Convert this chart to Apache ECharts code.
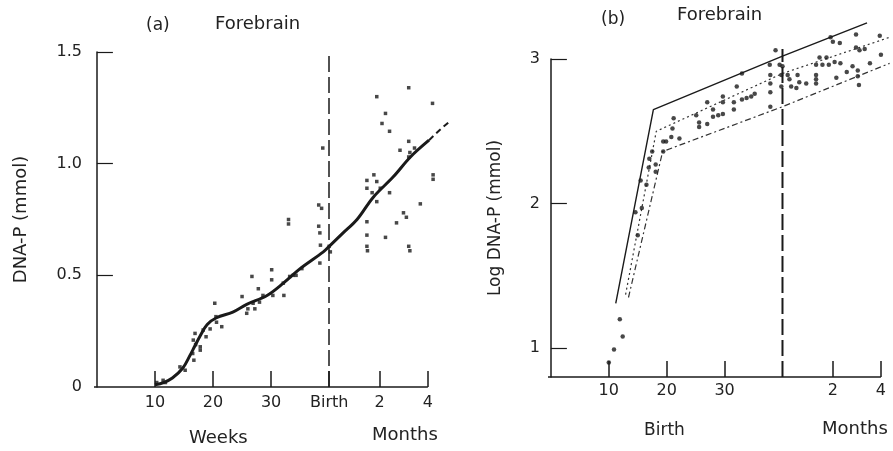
<!DOCTYPE html>
<html>
<head>
<meta charset="utf-8">
<script src="https://cdn.jsdelivr.net/npm/echarts@6/dist/echarts.min.js"></script>
<style>
html,body{margin:0;padding:0;background:#fff;}
#c{width:893px;height:451px;}
</style>
</head>
<body>
<div id="c"></div>
<script>
// ---------- Panel (a) data: weeks (40 = birth) vs DNA-P (mmol)
var curveA = [[10,0.01],[11.5,0.02],[13,0.04],[14.8,0.085],[16,0.14],[16.8,0.18],[17.8,0.23],[19,0.28],[20.6,0.31],[23.4,0.335],[25.8,0.37],[29.3,0.41],[32.1,0.465],[35,0.53],[39,0.605],[40,0.63],[42.4,0.69],[44.8,0.75],[47.6,0.85],[51,0.94],[54,1.03],[57.2,1.105]];
var curveAext = [[57.2,1.105],[59,1.15],[61,1.195]];
var pointsA = [[10.3,0.02],[11.4,0.03],[11.8,0.02],[14.3,0.09],[15.2,0.075],[16.5,0.15],[16.7,0.12],[16.6,0.21],[16.9,0.24],[17,0.19],[17.8,0.165],[17.8,0.18],[18.3,0.255],[18.8,0.225],[19.5,0.26],[20.3,0.375],[20.5,0.315],[20.6,0.29],[21.5,0.27],[25,0.405],[25.8,0.33],[26,0.35],[26.7,0.495],[26.9,0.375],[27.2,0.35],[27.8,0.44],[28,0.38],[28.6,0.41],[30.1,0.525],[30.1,0.48],[30.3,0.41],[32.1,0.465],[32.2,0.41],[33,0.75],[33,0.73],[33.2,0.495],[33.8,0.5],[34.3,0.5],[35.3,0.53],[38.2,0.815],[38.7,0.8],[38.2,0.72],[38.4,0.69],[38.5,0.635],[38.4,0.555],[38.9,1.07],[40.2,0.605],[40,0.63],[46.5,0.925],[46.5,0.89],[46.5,0.74],[46.5,0.68],[46.5,0.63],[46.6,0.61],[47.7,0.95],[47.4,0.87],[48.2,0.92],[48.8,0.89],[48.2,0.83],[48.2,1.30],[49.1,1.18],[49.7,1.225],[50.4,1.145],[49.7,0.67],[50.4,0.87],[51.6,0.735],[52.2,1.06],[52.8,0.78],[53.3,0.76],[53.7,1.34],[53.7,1.1],[53.7,1.03],[53.9,1.05],[53.7,0.63],[53.9,0.61],[54.7,1.07],[55.7,0.82],[57.8,1.27],[57.9,0.95],[57.9,0.93]];
var tickValsA = [10,20,30,40,48.7,57];
var tickLabelsA = ['10','20','30','Birth','2','4'];
var yTicksA = [0,0.5,1.0,1.5];
var birthA = 40;
var baseA = [[-0.5,0],[57,0]];

// ---------- Panel (b) data: weeks vs log DNA-P (mmol)
var upperB = [[11.2,1.31],[17.7,2.65],[40,3.02],[54.6,3.25]];
var middleB = [[12.9,1.37],[18.2,2.50],[40,2.90],[58.5,3.15]];
var lowerB = [[13.4,1.35],[19.3,2.36],[40,2.67],[58.5,2.97]];
var pointsB = [[10,0.90],[10.9,0.99],[11.9,1.20],[12.4,1.08],[14.6,1.94],[15,1.78],[15.7,1.97],[15.5,2.16],[16.5,2.13],[16.9,2.25],[17,2.31],[17.5,2.36],[18.1,2.27],[18.1,2.22],[19.4,2.36],[19.4,2.43],[19.9,2.43],[20.8,2.46],[21,2.52],[21.2,2.59],[22.2,2.45],[25.1,2.61],[25.6,2.56],[25.6,2.53],[27,2.70],[27,2.55],[28,2.65],[28,2.60],[28.9,2.61],[29.7,2.74],[29.7,2.70],[29.7,2.62],[31.6,2.70],[31.6,2.65],[32.1,2.81],[33,2.72],[33,2.90],[33.8,2.73],[34.6,2.74],[35.2,2.76],[37.8,2.96],[37.9,2.89],[37.9,2.83],[37.9,2.77],[37.9,2.67],[38.8,3.06],[39.5,2.96],[39.8,2.89],[39.8,2.81],[40,2.95],[40.9,2.89],[41.2,2.86],[41.5,2.81],[42.4,2.80],[42.6,2.89],[42.9,2.84],[44.1,2.83],[45.8,2.96],[45.8,2.89],[45.8,2.86],[45.8,2.83],[46.4,3.01],[46.9,2.96],[47.6,3.01],[48,2.96],[48.3,3.15],[48.7,3.12],[49,2.98],[49.3,2.87],[49.9,3.11],[50,2.97],[51.1,2.91],[52.1,2.95],[52.7,3.17],[52.7,3.08],[53,2.92],[53,2.88],[53.2,2.82],[53.3,3.06],[54.2,3.07],[55.1,2.97],[56.8,3.16],[57,3.03]];
var tickValsB = [10,20,30,48.7,57];
var tickLabelsB = ['10','20','30','2','4'];
var yTicksB = [1,2,3];
var birthLineB = [[40,0.8],[40,3.07]];
var baseB = [[-0.5,0.8],[57,0.8]];

var INK = '#1a1a1a';
var TXT = '#222';
var FONT = 'DejaVu Sans';

function lab(vals, labels){ return function(v){ var i = vals.indexOf(v); return i>=0 ? labels[i] : ''; }; }
function seg(p){ return [[{coord:p[0]},{coord:p[1]}]]; }

var chart = echarts.init(document.getElementById('c'), null, {renderer:'canvas'});
chart.setOption({
  animation:false,
  backgroundColor:'#fff',
  textStyle:{fontFamily:FONT,color:TXT},
  grid:[
    {left:94, top:52, width:360, height:335},
    {left:548, top:59, width:344.5, height:318}
  ],
  xAxis:[
    {gridIndex:0, type:'value', min:-0.5, max:61.5, splitLine:{show:false},
     axisLine:{show:false},
     axisTick:{show:true, inside:true, length:16, customValues:tickValsA, lineStyle:{color:INK,width:1.5}},
     axisLabel:{customValues:tickValsA, formatter:lab(tickValsA,tickLabelsA), color:TXT, fontSize:16, margin:8, fontFamily:FONT}},
    {gridIndex:1, type:'value', min:-0.5, max:59, splitLine:{show:false},
     axisLine:{show:false},
     axisTick:{show:true, inside:true, length:16, customValues:tickValsB, lineStyle:{color:INK,width:1.5}},
     axisLabel:{customValues:tickValsB, formatter:lab(tickValsB,tickLabelsB), color:TXT, fontSize:16, margin:6, fontFamily:FONT}}
  ],
  yAxis:[
    {gridIndex:0, type:'value', min:0, max:1.5, interval:0.5, splitLine:{show:false},
     name:'DNA-P (mmol)', nameLocation:'middle', nameGap:64, nameRotate:90,
     nameTextStyle:{fontSize:18,color:TXT,fontFamily:FONT},
     axisLine:{show:true,lineStyle:{color:INK,width:1.5}},
     axisTick:{show:true, inside:true, length:16, customValues:[0.5,1.0,1.5], lineStyle:{color:INK,width:1.2}},
     axisLabel:{customValues:yTicksA, formatter:function(v){return v===0?'0':v.toFixed(1);}, color:TXT, fontSize:16, margin:12, fontFamily:FONT}},
    {gridIndex:1, type:'value', min:0.8, max:3.0, splitLine:{show:false},
     name:'Log DNA-P (mmol)', nameLocation:'middle', nameGap:44, nameRotate:90,
     nameTextStyle:{fontSize:17,color:TXT,fontFamily:FONT},
     axisLine:{show:true,lineStyle:{color:INK,width:1.5}},
     axisTick:{show:true, inside:true, length:16, customValues:yTicksB, lineStyle:{color:INK,width:1.2}},
     axisLabel:{customValues:yTicksB, formatter:function(v){return String(v);}, color:TXT, fontSize:16, margin:8, fontFamily:FONT}}
  ],
  graphic:[
    {type:'text', left:146, top:17, style:{text:'(a)', fontSize:17, fill:TXT, fontFamily:FONT}},
    {type:'text', left:215, top:15, style:{text:'Forebrain', fontSize:18, fill:TXT, fontFamily:FONT}},
    {type:'text', left:189, top:429, style:{text:'Weeks', fontSize:18, fill:TXT, fontFamily:FONT}},
    {type:'text', left:372, top:426, style:{text:'Months', fontSize:18, fill:TXT, fontFamily:FONT}},
    {type:'text', left:601, top:11, style:{text:'(b)', fontSize:17, fill:TXT, fontFamily:FONT}},
    {type:'text', left:677, top:6, style:{text:'Forebrain', fontSize:18, fill:TXT, fontFamily:FONT}},
    {type:'text', left:644, top:422, style:{text:'Birth', fontSize:17, fill:TXT, fontFamily:FONT}},
    {type:'text', left:822, top:420, style:{text:'Months', fontSize:18, fill:TXT, fontFamily:FONT}}
  ],
  series:[
    {type:'line', xAxisIndex:0, yAxisIndex:0, data:curveA, smooth:0.35, showSymbol:false, symbol:'none',
     lineStyle:{color:INK,width:3}, z:5,
     markLine:{silent:true, symbol:'none', label:{show:false}, lineStyle:{color:INK,width:1.5,type:[16,5]}, data:[{xAxis:birthA}]}},
    {type:'line', xAxisIndex:0, yAxisIndex:0, data:curveAext, clip:false, symbol:'none',
     lineStyle:{color:INK,width:2,type:[6,4]},
     markLine:{silent:true, symbol:'none', label:{show:false}, lineStyle:{color:INK,width:1.5,type:'solid'}, data:seg(baseA)}},
    {type:'scatter', xAxisIndex:0, yAxisIndex:0, data:pointsA, clip:false, symbol:'rect', symbolSize:3.5,
     itemStyle:{color:INK}, z:6},
    {type:'line', xAxisIndex:1, yAxisIndex:1, data:birthLineB, clip:false, symbol:'none',
     lineStyle:{color:INK,width:2,type:[16,5]},
     markLine:{silent:true, symbol:'none', label:{show:false}, lineStyle:{color:INK,width:1.5,type:'solid'}, data:seg(baseB)}},
    {type:'line', xAxisIndex:1, yAxisIndex:1, data:upperB, clip:false, symbol:'none',
     lineStyle:{color:INK,width:1.4}},
    {type:'line', xAxisIndex:1, yAxisIndex:1, data:middleB, clip:false, symbol:'none',
     lineStyle:{color:'#333',width:1.2,type:[2,3]}},
    {type:'line', xAxisIndex:1, yAxisIndex:1, data:lowerB, clip:false, symbol:'none',
     lineStyle:{color:'#333',width:1.2,type:[6,3,2,3]}},
    {type:'scatter', xAxisIndex:1, yAxisIndex:1, data:pointsB, clip:false, symbol:'circle', symbolSize:4.5,
     itemStyle:{color:INK}, z:6}
  ]
});
</script>
</body>
</html>
